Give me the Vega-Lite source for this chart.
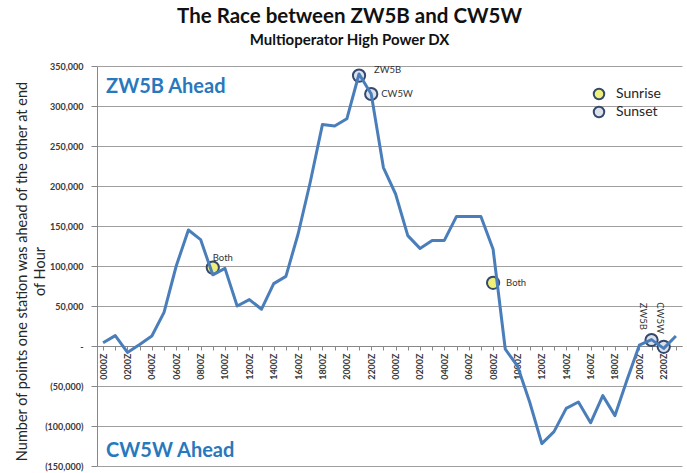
{
  "$schema": "https://vega.github.io/schema/vega-lite/v6.json",
  "width": 585,
  "height": 400,
  "autosize": "none",
  "padding": {"left": 97, "top": 66, "right": 5, "bottom": 7},
  "background": "white",
  "config": {"font": "Lato", "view": {"stroke": null}},
  "title": {
    "text": "The Race between ZW5B and CW5W",
    "subtitle": "Multioperator High Power DX",
    "fontSize": 20.5,
    "fontWeight": "bold",
    "color": "#111111",
    "subtitleFontSize": 15,
    "subtitleFontWeight": "bold",
    "subtitleColor": "#111111",
    "anchor": "middle",
    "dx": -40,
    "offset": 14,
    "subtitlePadding": 6
  },
  "datasets": {
    "series": [
      {"t": 0, "v": 4000}, {"t": 1, "v": 13000}, {"t": 2, "v": -8000}, {"t": 3, "v": 2000},
      {"t": 4, "v": 12500}, {"t": 5, "v": 42000}, {"t": 6, "v": 100000}, {"t": 7, "v": 145000},
      {"t": 8, "v": 133000}, {"t": 9, "v": 89000}, {"t": 10, "v": 97000}, {"t": 11, "v": 50000},
      {"t": 12, "v": 58000}, {"t": 13, "v": 46000}, {"t": 14, "v": 78000}, {"t": 15, "v": 87000},
      {"t": 16, "v": 140000}, {"t": 17, "v": 205000}, {"t": 18, "v": 277000}, {"t": 19, "v": 275000},
      {"t": 20, "v": 284000}, {"t": 21, "v": 340000}, {"t": 22, "v": 315000}, {"t": 23, "v": 223000},
      {"t": 24, "v": 190000}, {"t": 25, "v": 138000}, {"t": 26, "v": 122000}, {"t": 27, "v": 132000},
      {"t": 28, "v": 132000}, {"t": 29, "v": 162000}, {"t": 30, "v": 162000}, {"t": 31, "v": 162000},
      {"t": 32, "v": 121000}, {"t": 33, "v": -4000}, {"t": 34, "v": -25000}, {"t": 35, "v": -70000},
      {"t": 36, "v": -122000}, {"t": 37, "v": -107000}, {"t": 38, "v": -78000}, {"t": 39, "v": -70000},
      {"t": 40, "v": -96000}, {"t": 41, "v": -62000}, {"t": 42, "v": -87000}, {"t": 43, "v": -42000},
      {"t": 44, "v": 1000}, {"t": 45, "v": 8000}, {"t": 46, "v": -3000}, {"t": 47, "v": 12500}
    ],
    "markers": [
      {"t": 9, "v": 98000, "event": "Sunrise", "label": "Both"},
      {"t": 32, "v": 79000, "event": "Sunrise", "label": "Both"},
      {"t": 21, "v": 338000, "event": "Sunset", "label": "ZW5B"},
      {"t": 22, "v": 315000, "event": "Sunset", "label": "CW5W"},
      {"t": 45, "v": 7500, "event": "Sunset", "label": "ZW5B"},
      {"t": 46, "v": -1000, "event": "Sunset", "label": "CW5W"}
    ],
    "notes": [
      {"t": 0, "v": 324000, "label": "ZW5B Ahead"},
      {"t": 0, "v": -131000, "label": "CW5W Ahead"}
    ]
  },
  "encoding": {
    "x": {
      "field": "t",
      "type": "ordinal",
      "scale": {"type": "point", "padding": 0.5},
      "axis": {
        "title": null,
        "offset": -120,
        "values": [0,1,2,3,4,5,6,7,8,9,10,11,12,13,14,15,16,17,18,19,20,21,22,23,24,25,26,27,28,29,30,31,32,33,34,35,36,37,38,39,40,41,42,43,44,45,46,47],
        "labelExpr": "datum.value % 2 == 0 ? ((datum.value % 24) < 10 ? '0' : '') + (datum.value % 24) + '00Z' : ''",
        "labelAngle": 270,
        "labelAlign": "right",
        "labelBaseline": "middle",
        "labelFontSize": 9,
        "labelFontWeight": "bold",
        "labelColor": "#3a3a3a",
        "labelOverlap": false,
        "labelPadding": 3,
        "tickSize": 4,
        "tickColor": "#888888",
        "domainColor": "#888888",
        "grid": false
      }
    },
    "y": {
      "field": "v",
      "type": "quantitative",
      "scale": {"domain": [-150000, 350000], "nice": false},
      "axis": {
        "values": [-150000, -100000, -50000, 0, 50000, 100000, 150000, 200000, 250000, 300000, 350000],
        "labelExpr": "datum.value == 0 ? '-' : (datum.value < 0 ? '(' + format(-datum.value, ',') + ')' : format(datum.value, ','))",
        "title": ["Number of points one station was ahead of the other at end", "of Hour"],
        "titleFontSize": 14.5,
        "titleFontWeight": "normal",
        "titleColor": "#262626",
        "titleLineHeight": 18,
        "titleX": -82,
        "titleY": 205,
        "titleAngle": 270,
        "titleAlign": "center",
        "titleBaseline": "top",
        "grid": true,
        "gridColor": "#a0a0a0",
        "domainColor": "#888888",
        "tickColor": "#888888",
        "tickSize": 6,
        "labelFontSize": 9,
        "labelFontWeight": "bold",
        "labelColor": "#3a3a3a",
        "labelPadding": 8
      }
    }
  },
  "layer": [
    {
      "data": {"name": "markers"},
      "mark": {"type": "point", "filled": true, "size": 150, "stroke": "#34496B", "strokeWidth": 2, "opacity": 1},
      "encoding": {
        "color": {
          "field": "event",
          "type": "nominal",
          "scale": {"domain": ["Sunrise", "Sunset"], "range": ["#EEF07A", "#DCE1EB"]},
          "legend": {
            "title": null,
            "orient": "none",
            "legendX": 495,
            "legendY": 21,
            "padding": 0,
            "symbolType": "circle",
            "symbolSize": 110,
            "symbolStrokeColor": "#34496B",
            "symbolStrokeWidth": 2,
            "symbolOpacity": 1,
            "labelFontSize": 14,
            "labelColor": "#262626",
            "labelOffset": 10,
            "rowPadding": -2
          }
        }
      }
    },
    {
      "data": {"name": "series"},
      "mark": {"type": "line", "color": "#4A7EBB", "strokeWidth": 3, "strokeJoin": "round"}
    },
    {
      "data": {"name": "markers"},
      "transform": [{"filter": "datum.t == 9"}],
      "mark": {"type": "text", "align": "left", "baseline": "middle", "dx": 0, "dy": -10, "fontSize": 9.5, "color": "#333333"},
      "encoding": {"text": {"field": "label"}}
    },
    {
      "data": {"name": "markers"},
      "transform": [{"filter": "datum.t == 32"}],
      "mark": {"type": "text", "align": "left", "baseline": "middle", "dx": 13, "dy": 0, "fontSize": 9.5, "color": "#333333"},
      "encoding": {"text": {"field": "label"}}
    },
    {
      "data": {"name": "markers"},
      "transform": [{"filter": "datum.t == 21"}],
      "mark": {"type": "text", "align": "left", "baseline": "middle", "dx": 15, "dy": -6, "fontSize": 9.5, "color": "#333333"},
      "encoding": {"text": {"field": "label"}}
    },
    {
      "data": {"name": "markers"},
      "transform": [{"filter": "datum.t == 22"}],
      "mark": {"type": "text", "align": "left", "baseline": "middle", "dx": 10, "dy": 0, "fontSize": 9.5, "color": "#333333"},
      "encoding": {"text": {"field": "label"}}
    },
    {
      "data": {"name": "markers"},
      "transform": [{"filter": "datum.t == 45"}],
      "mark": {"type": "text", "angle": 90, "align": "right", "baseline": "middle", "dx": -10, "dy": 9, "fontSize": 9.5, "color": "#333333"},
      "encoding": {"text": {"field": "label"}}
    },
    {
      "data": {"name": "markers"},
      "transform": [{"filter": "datum.t == 46"}],
      "mark": {"type": "text", "angle": 90, "align": "right", "baseline": "middle", "dx": -13, "dy": 4, "fontSize": 9.5, "color": "#333333"},
      "encoding": {"text": {"field": "label"}}
    },
    {
      "data": {"name": "notes"},
      "mark": {"type": "text", "align": "left", "baseline": "middle", "dx": 3, "fontSize": 20, "fontWeight": "bold", "color": "#2878BD"},
      "encoding": {"text": {"field": "label"}}
    }
  ]
}
